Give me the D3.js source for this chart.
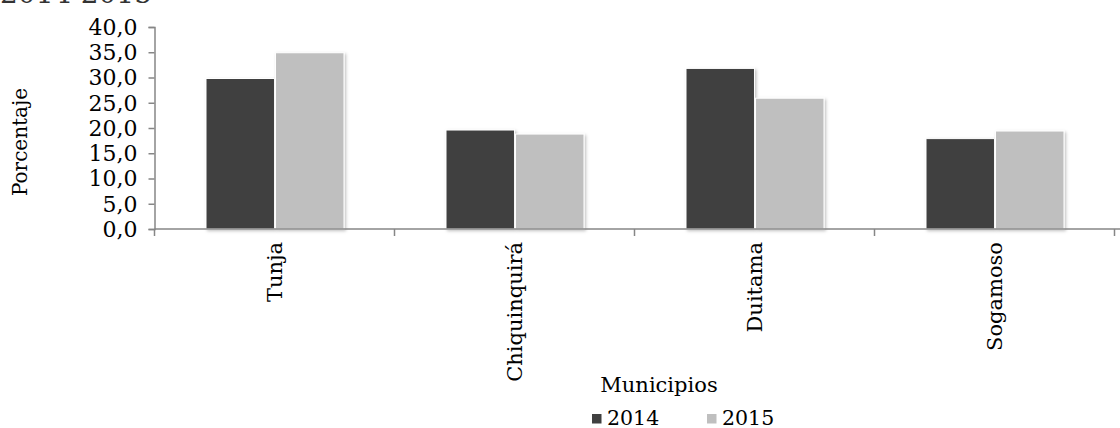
<!DOCTYPE html>
<html>
<head>
<meta charset="utf-8">
<script src="https://cdn.jsdelivr.net/npm/d3@7"></script>
<style>
  body { margin: 0; background: #fff; }
  svg text { font-family: "DejaVu Serif", serif; fill: #000; }
</style>
</head>
<body>
<div id="chart"></div>
<script>
'use strict';

var municipios = ['Tunja', 'Chiquinquirá', 'Duitama', 'Sogamoso'];
var years = ['2014', '2015'];
var values2014 = [29.8, 19.6, 31.8, 17.9];
var values2015 = [34.9, 18.8, 25.9, 19.4];
var yTicks = [0, 5, 10, 15, 20, 25, 30, 35, 40];
var colors = ['#404040', '#bfbfbf'];

var width = 1120;
var height = 428;
var margin = {top: 27, left: 155, bottom: 199, right: 5};

var svg = d3.select('#chart').append('svg')
    .attr('width', width)
    .attr('height', height);

var defs = svg.append('defs');
defs.append('filter')
    .attr('id', 'shadow')
    .attr('x', '-10%').attr('y', '-10%')
    .attr('width', '130%').attr('height', '130%')
  .append('feDropShadow')
    .attr('dx', 1.5)
    .attr('dy', 1.5)
    .attr('stdDeviation', 1.5)
    .attr('flood-color', '#000')
    .attr('flood-opacity', 0.25);

var data = municipios.map(function(m, i) {
    return {name: m, vals: [values2014[i], values2015[i]]};
});

var x0 = d3.scaleBand()
    .domain(municipios)
    .range([margin.left, width - margin.right]);

var groupWidth = 138;
var x1 = d3.scaleBand()
    .domain(years)
    .range([0, groupWidth])
    .paddingInner(0.015);

var y = d3.scaleLinear()
    .domain([0, 40])
    .range([height - margin.bottom, margin.top]);

var fmt = function(d) { return d3.format('.1f')(d).replace('.', ','); };

// title, cut off at the top as in the source image
svg.append('text')
    .attr('x', 0)
    .attr('y', 3)
    .style('font-size', '28px')
    .style('fill', '#333')
    .text('2014-2015');

// bars
var groups = svg.append('g').selectAll('g')
    .data(data)
    .enter()
    .append('g')
    .attr('transform', function(d) {
        return 'translate(' + (x0(d.name) + x0.bandwidth() / 2 - groupWidth / 2) + ',0)';
    });

groups.selectAll('rect')
    .data(function(d) { return d.vals.map(function(v, i) { return {year: years[i], val: v, i: i}; }); })
    .enter()
    .append('rect')
    .attr('x', function(d) { return x1(d.year); })
    .attr('y', function(d) { return y(d.val); })
    .attr('width', x1.bandwidth())
    .attr('height', function(d) { return y(0) - y(d.val); })
    .attr('fill', function(d) { return colors[d.i]; })
    .attr('stroke', '#fff')
    .attr('stroke-width', 1)
    .attr('filter', 'url(#shadow)');

// y axis
var yAxis = svg.append('g')
    .attr('transform', 'translate(' + (margin.left - 0.5) + ',0)')
    .call(d3.axisLeft(y).tickValues(yTicks).tickFormat(fmt).tickSize(6).tickPadding(11));
yAxis.select('.domain').attr('stroke', '#868686').attr('stroke-width', 1.5);
yAxis.selectAll('.tick line').attr('stroke', '#868686').attr('stroke-width', 1.5);
yAxis.selectAll('.tick text')
    .style('font-family', '"DejaVu Serif", serif')
    .style('font-size', '22px')
    .attr('dy', '0.34em');

// x axis line and boundary ticks
var xg = svg.append('g');
xg.append('line')
    .attr('x1', margin.left - 0.5)
    .attr('x2', width)
    .attr('y1', y(0))
    .attr('y2', y(0))
    .attr('stroke', '#868686')
    .attr('stroke-width', 1.5);

var edges = municipios.map(function(m) { return x0(m); }).concat([x0.range()[1]]);
xg.selectAll('line.edge')
    .data(edges)
    .enter()
    .append('line')
    .attr('class', 'edge')
    .attr('x1', function(d) { return d - 0.5; })
    .attr('x2', function(d) { return d - 0.5; })
    .attr('y1', y(0))
    .attr('y2', y(0) + 7)
    .attr('stroke', '#868686')
    .attr('stroke-width', 1.5);

xg.selectAll('text.cat')
    .data(municipios)
    .enter()
    .append('text')
    .attr('class', 'cat')
    .attr('transform', function(d) {
        return 'translate(' + (x0(d) + x0.bandwidth() / 2) + ',' + (y(0) + 13) + ') rotate(-90)';
    })
    .attr('text-anchor', 'end')
    .attr('dy', '0.35em')
    .style('font-size', '21px')
    .text(function(d) { return d; });

// axis titles
svg.append('text')
    .attr('transform', 'translate(27,142) rotate(-90)')
    .attr('text-anchor', 'middle')
    .style('font-size', '20px')
    .text('Porcentaje');

svg.append('text')
    .attr('x', 659)
    .attr('y', 392)
    .attr('text-anchor', 'middle')
    .style('font-size', '21px')
    .text('Municipios');

// legend
var legendX = [592, 707];
var legend = svg.append('g').selectAll('g')
    .data(years)
    .enter()
    .append('g')
    .attr('transform', function(d, i) { return 'translate(' + legendX[i] + ',414)'; });

legend.append('rect')
    .attr('width', 9.5)
    .attr('height', 9.5)
    .attr('fill', function(d, i) { return colors[i]; });

legend.append('text')
    .attr('x', 15)
    .attr('y', 10.5)
    .style('font-size', '20.5px')
    .text(function(d) { return d; });
</script>
</body>
</html>
